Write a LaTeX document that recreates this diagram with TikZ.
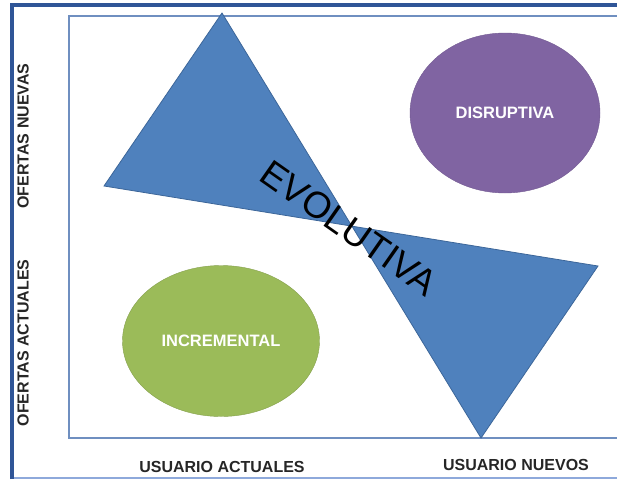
\documentclass[tikz,border=0pt]{standalone}
\usepackage{fontspec}
\setmainfont{Liberation Sans}
\usetikzlibrary{shapes.geometric}
\definecolor{framedark}{HTML}{2F5597}
\definecolor{framelight}{HTML}{8EA9DB}
\definecolor{frameinner}{HTML}{6F8FC0}
\definecolor{evoblue}{HTML}{4F81BD}
\definecolor{evoline}{HTML}{3C6699}
\definecolor{disrupurple}{HTML}{8064A2}
\definecolor{incgreen}{HTML}{9BBB59}
\tikzset{
	axislabel/.style={font=\fontsize{16}{16}\selectfont\bfseries, text=black!85},
	blob/.style={ellipse, inner sep=0pt, font=\fontsize{16.5}{17}\selectfont\bfseries, text=white}
}

\begin{document}
\begin{tikzpicture}[x=1pt,y=-1pt]
		%%%%% START %%%%%
		\useasboundingbox (0,0) rectangle (617,479);
		
		\draw[framelight, line width=1.3pt] (12,478) -- (617,478);
		\draw[framedark, line width=3.5pt] (12,479) -- (12,5) -- (617,5);
		\draw[frameinner, line width=1.8pt] (617,438) -- (69,438) -- (69,16) -- (617,16);
		
		\node[blob, fill=incgreen, draw=incgreen!85!black, minimum width=197, minimum height=151] (incremental) at (221,341) {INCREMENTAL};
		\node[blob, fill=disrupurple, draw=disrupurple!90!black, minimum width=190, minimum height=160] (disruptiva) at (505,113) {DISRUPTIVA};
		
		\draw[fill=evoblue, draw=evoline, line width=0.8pt] (222,13) -- (481,438) -- (598,266) -- (104,186) -- cycle;
		\node[rotate=-35, font=\fontsize{37}{37}\selectfont] (evolutiva) at (349,228) {EVOLUTIVA};
		
		\node[axislabel, rotate=90] (ofnuevas) at (23,136) {OFERTAS NUEVAS};
		\node[axislabel, rotate=90] (ofactuales) at (23,343) {OFERTAS ACTUALES};
		\node[axislabel] (usactuales) at (222,467) {USUARIO ACTUALES};
		\node[axislabel] (usnuevos) at (516,465) {USUARIO NUEVOS};
		%%%%% END %%%%%
	\end{tikzpicture}
\end{document}
